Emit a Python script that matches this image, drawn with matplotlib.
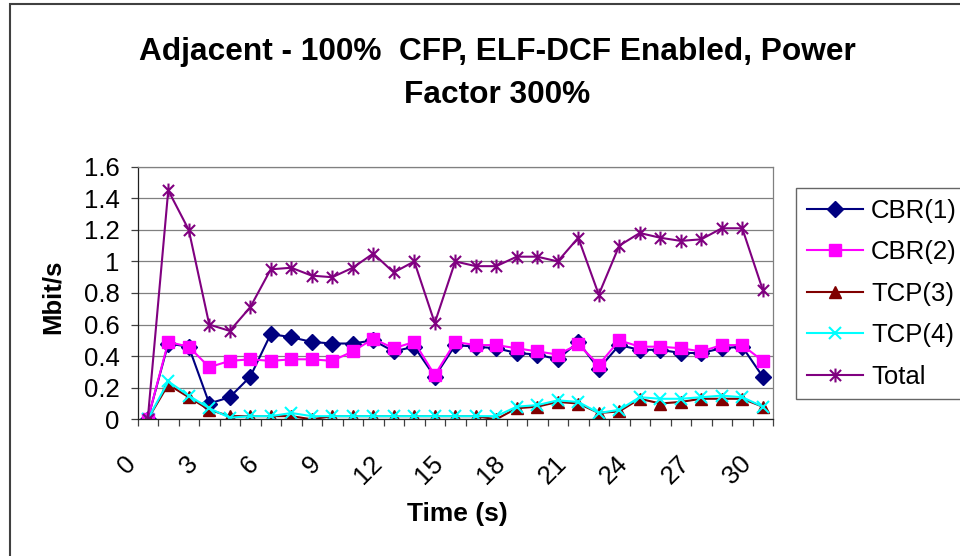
import numpy as np
import matplotlib
matplotlib.use("Agg")
import matplotlib.pyplot as plt
import matplotlib.transforms as mtransforms
from matplotlib.path import Path
from matplotlib.patches import Rectangle

plt.rcParams["font.family"] = ["Liberation Sans", "DejaVu Sans"]

# ---------------------------------------------------------------
# data (Mbit/s per second of simulation)
# ---------------------------------------------------------------
time_s = list(range(31))
tick_labels = ["0", "3", "6", "9", "12", "15", "18", "21", "24", "27", "30"]

cbr1 = [0, 0.48, 0.46, 0.10, 0.14, 0.27, 0.54, 0.52, 0.49, 0.48, 0.48,
        0.50, 0.43, 0.46, 0.27, 0.47, 0.46, 0.45, 0.42, 0.41, 0.38,
        0.49, 0.32, 0.47, 0.44, 0.44, 0.42, 0.42, 0.45, 0.46, 0.27]
cbr2 = [0, 0.49, 0.46, 0.33, 0.37, 0.38, 0.37, 0.38, 0.38, 0.37, 0.43,
        0.51, 0.45, 0.49, 0.28, 0.49, 0.47, 0.47, 0.45, 0.43, 0.41,
        0.475, 0.345, 0.50, 0.46, 0.46, 0.45, 0.43, 0.47, 0.47, 0.37]
tcp3 = [0, 0.22, 0.14, 0.06, 0.02, 0.02, 0.02, 0.02, 0.0, 0.02, 0.02,
        0.02, 0.02, 0.02, 0.02, 0.02, 0.02, 0.0, 0.07, 0.08, 0.11,
        0.10, 0.04, 0.05, 0.13, 0.10, 0.11, 0.13, 0.13, 0.13, 0.08]
tcp4 = [0, 0.24, 0.15, 0.07, 0.01, 0.02, 0.02, 0.04, 0.02, 0.02, 0.02,
        0.02, 0.02, 0.02, 0.02, 0.02, 0.02, 0.02, 0.08, 0.09, 0.12,
        0.11, 0.04, 0.06, 0.14, 0.13, 0.13, 0.14, 0.15, 0.14, 0.08]
total = [0, 1.45, 1.20, 0.60, 0.56, 0.71, 0.95, 0.96, 0.91, 0.90, 0.96,
         1.05, 0.93, 1.00, 0.61, 1.00, 0.97, 0.97, 1.03, 1.03, 1.00,
         1.15, 0.79, 1.10, 1.18, 1.15, 1.13, 1.14, 1.21, 1.21, 0.82]

# asterisk marker: X with a vertical bar
star = Path([(-1, -1), (1, 1), (-1, 1), (1, -1), (0, -1.25), (0, 1.25)],
            [Path.MOVETO, Path.LINETO] * 3)

fig = plt.figure(figsize=(9.6, 5.56), dpi=100)
ax = fig.add_axes([137.5 / 960, 1 - 419.3 / 556, 635.5 / 960, 252.6 / 556])

ax.plot(time_s, cbr1, color="#000080", lw=1.5, marker="D", ms=8,
        label="CBR(1)")
ax.plot(time_s, cbr2, color="#FF00FF", lw=1.5, marker="s", ms=8.5,
        label="CBR(2)")
ax.plot(time_s, tcp3, color="#800000", lw=1.5, marker="^", ms=9,
        label="TCP(3)")
ax.plot(time_s, tcp4, color="#00FFFF", lw=1.5, marker="x", ms=8.5, mew=1.5,
        label="TCP(4)")
ax.plot(time_s, total, color="#800080", lw=1.5, marker=star, ms=10,
        mew=1.5, mfc="none", label="Total")

ax.set_xlim(-0.5, 30.5)
ax.set_ylim(0, 1.6)
ax.set_yticks(np.arange(0, 1.61, 0.2))
ax.set_yticklabels(["0", "0.2", "0.4", "0.6", "0.8", "1", "1.2", "1.4", "1.6"])
ax.yaxis.grid(True, color="#808080", lw=0.9)
ax.set_axisbelow(True)

ax.set_xticks(np.arange(0, 31, 3))
ax.set_xticklabels(tick_labels, rotation=45, ha="right", va="top")
ax.set_xticks(np.arange(-0.5, 31, 1), minor=True)
ax.tick_params(axis="x", which="major", length=0, pad=23, labelsize=18.5)
ax.tick_params(axis="x", which="minor", length=5, width=0.9, color="#404040")
ax.tick_params(axis="y", length=5, width=0.9, color="#404040", pad=8,
               labelsize=18.5)
shift = mtransforms.ScaledTranslation(-7 / 100, 0, fig.dpi_scale_trans)
for lbl in ax.get_xticklabels():
    lbl.set_transform(lbl.get_transform() + shift)

for side in ["top", "right"]:
    ax.spines[side].set_color("#808080")
    ax.spines[side].set_linewidth(0.9)
for side in ["left", "bottom"]:
    ax.spines[side].set_color("#202020")
    ax.spines[side].set_linewidth(0.9)

fig.text(497 / 960, 1 - 52 / 556,
         "Adjacent - 100%  CFP, ELF-DCF Enabled, Power",
         ha="center", va="center", fontsize=22.8, fontweight="bold")
fig.text(497 / 960, 1 - 95 / 556, "Factor 300%",
         ha="center", va="center", fontsize=22.8, fontweight="bold")
fig.text(53 / 960, 1 - 297 / 556, "Mbit/s", rotation=90,
         ha="center", va="center", fontsize=18.5, fontweight="bold")
fig.text(457 / 960, 1 - 514 / 556, "Time (s)",
         ha="center", va="center", fontsize=19, fontweight="bold")

leg = fig.legend(loc="upper left", bbox_to_anchor=(796 / 960, 1 - 188 / 556),
                 bbox_transform=fig.transFigure, fontsize=18.5,
                 frameon=True, fancybox=False, borderaxespad=0,
                 borderpad=0.42, labelspacing=0.68, handlelength=2.2,
                 handletextpad=0.3)
leg.get_frame().set_edgecolor("#404040")
leg.get_frame().set_linewidth(1.0)

# chart frame (left and top edges)
fig.patches.append(Rectangle((10 / 960, -0.2), 1.0, 1.2 - 4 / 556,
                             transform=fig.transFigure, fill=False,
                             edgecolor="#404040", lw=1.5))

fig.savefig("out.png", dpi=100)
